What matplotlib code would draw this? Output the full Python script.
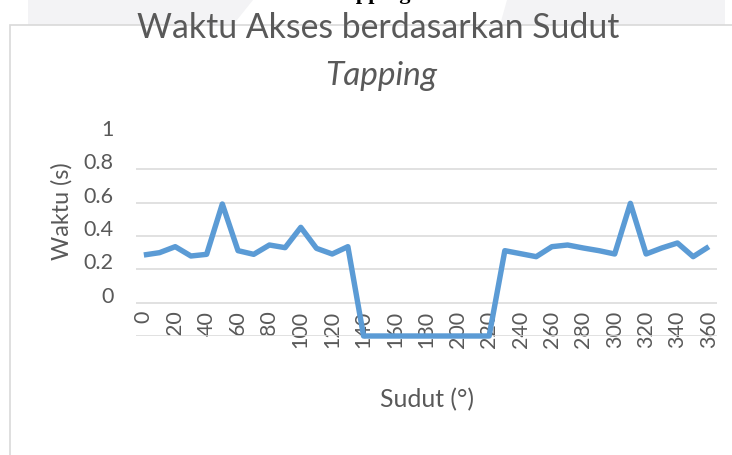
import numpy as np
import matplotlib
matplotlib.use("Agg")
import matplotlib.pyplot as plt
from matplotlib.patches import Polygon, Rectangle

# data
sudut = list(range(0, 361, 10))
waktu = [0.286, 0.30, 0.336, 0.28, 0.29, 0.592, 0.312, 0.29, 0.346, 0.33,
         0.452, 0.326, 0.292, 0.336,
         -0.2, -0.2, -0.2, -0.2, -0.2, -0.2, -0.2, -0.2, -0.2,
         0.312, 0.294, 0.276, 0.336, 0.346, 0.328, 0.312, 0.292, 0.596,
         0.292, 0.328, 0.358, 0.276, 0.336]
x_ticks = list(range(0, 361, 20))
y_ticks = [-0.2, 0, 0.2, 0.4, 0.6, 0.8, 1.0]
y_labels = ['', '0', '0.2', '0.4', '0.6', '0.8', '1']

W, H = 732, 455
plt.rcParams['font.family'] = ['Lato', 'DejaVu Sans']
txt = '#595959'

fig = plt.figure(figsize=(W / 100, H / 100), dpi=100)


def fx(px):
    return px / W


def fy(py):
    return 1 - py / H


# faint page background above the chart frame
for pts in ([(28, 0), (253, 0), (233, 25), (28, 25)],
            [(507, 0), (725, 0), (725, 25), (500, 25)]):
    fig.add_artist(Polygon([(fx(a), fy(b)) for a, b in pts], closed=True,
                           transform=fig.transFigure, facecolor='#f3f3f5',
                           edgecolor='none', zorder=0))
# bits of the document heading cut off at the top
fig.text(fx(333), fy(-1), 'Tapping', family=['Liberation Serif', 'DejaVu Serif'],
         weight='bold', fontsize=16, color='black', va='baseline', ha='left')

# chart frame (runs off the right and bottom edges)
fig.add_artist(Rectangle((fx(10), -0.5), 2, fy(25) + 0.5, transform=fig.transFigure,
                         fill=False, edgecolor='#d9d9d9', linewidth=1.2, zorder=1))

ax = fig.add_axes([fx(136), fy(336), fx(716.7) - fx(136), fy(136) - fy(336)])
ax.set_facecolor('none')
for s in ax.spines.values():
    s.set_visible(False)
ax.spines['bottom'].set_position(('data', 0))

ax.plot(sudut, waktu, color='#5B9BD5', linewidth=3.9, solid_joinstyle='round',
        solid_capstyle='butt', clip_on=False, zorder=3)

ax.set_xlim(-5, 365)
ax.set_ylim(-0.2, 1.0)
ax.set_yticks(y_ticks)
ax.set_yticklabels(y_labels, va='baseline')
ax.set_xticks(x_ticks)
ax.set_xticklabels([str(v) for v in x_ticks], rotation=90, va='top', ha='center')
ax.tick_params(axis='y', length=0, pad=16.3, labelsize=15.5, labelcolor=txt)
ax.tick_params(axis='x', length=0, pad=5.8, labelsize=15.5, labelcolor=txt)
ax.grid(axis='y', color='#d9d9d9', linewidth=1.1)
ax.set_axisbelow(True)
ax.get_ygridlines()[-1].set_visible(False)

fig.text(fx(378), fy(38.3), 'Waktu Akses berdasarkan Sudut', fontsize=24.3,
         color=txt, ha='center', va='baseline')
fig.text(fx(381), fy(85), 'Tapping', fontsize=24, style='italic',
         color=txt, ha='center', va='baseline')
fig.text(fx(62), fy(211), 'Waktu (s)', fontsize=16.8, rotation=90,
         color=txt, ha='center', va='center')
fig.text(fx(426.5), fy(407), 'Sudut (°)', fontsize=17.8,
         color=txt, ha='center', va='baseline')

fig.savefig('out.png', dpi=100)
